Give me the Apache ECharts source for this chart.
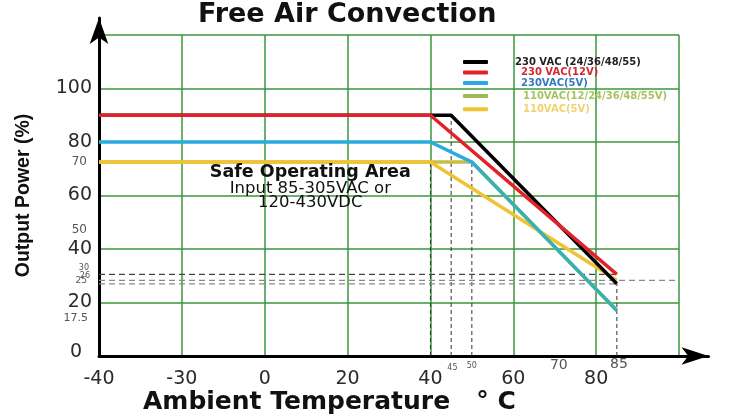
<!DOCTYPE html>
<html><head><meta charset="utf-8">
<script src="https://cdn.jsdelivr.net/npm/echarts@6/dist/echarts.min.js"></script>
<style>html,body{margin:0;padding:0;background:#fff}#c{width:729px;height:419px}</style>
</head><body><div id="c"></div>
<script>
// ---- data ----
const seriesNames = ['230 VAC (24/36/48/55)', '230 VAC(12V)', '230VAC(5V)', '110VAC(12/24/36/48/55V)', '110VAC(5V)'];
const black230 = [[-40, 90], [45, 90], [85, 27]];
const red230_12 = [[-40, 90], [40, 90], [85, 30.5]];
const blue230_5 = [[-40, 80], [40, 80], [50, 72.5], [85, 17]];
const olive110 = [[-40, 72.5], [50, 72.5], [85, 17]];
const yellow110_5 = [[-40, 72.5], [40, 72.5], [85, 28.3]];
const xTickValues = [-40, -20, 0, 20, 40, 60, 80];
const xTickLabels = ['-40', '-30', '0', '20', '40', '60', '80'];
const yTickValues = [20, 40, 60, 80, 100];
const yTickLabels = ['20', '40', '60', '80', '100'];
const yMinorValues = [72.4, 47, 32.8, 30, 28.3, 14.1, 1.6];
const yMinorLabels = ['70', '50', '30', '26', '25', '17.5', '0'];
const xMinorValues = [45.3, 50, 71, 85.5];
const xMinorLabels = ['45', '50', '70', '85'];
const vGuides = [[40, 72.5], [45, 90], [50, 72.5], [85, 27]];      // [x, top y]
const hGuides = [[30.5, 85], [28.3, 100], [27, 85]];             // [y, end x]
const noteX = 11;
const noteY = [68.5, 62.5, 57.3];
const noteText = ['Safe Operating Area', 'Input 85-305VAC or', '120-430VDC'];

// ---- styles ----
const lineColors = ['#000000', '#e2222a', '#29abe2', '#9bbb59', '#efc334'];
const legendTextColors = ['#222222', '#d22a30', '#3478bd', '#a6c462', '#f0d26e'];
const yMinorFont = [12, 12, 8, 8, 9, 11, 19];
const yMinorDist = [12, 12, 10, 9, 12, 11, 17];
const xMinorFont = [8, 8, 14, 14];
const xMinorDist = [8, 6, 2.5, 1.5];
const noteFont = [{fontSize: 17.5, fontWeight: 'bold'}, {fontSize: 16.5}, {fontSize: 16.5}];

const chart = echarts.init(document.getElementById('c'), null, {renderer: 'canvas'});

const guideSeries = [];
vGuides.forEach(g => guideSeries.push({
  type: 'line', silent: true, symbol: 'none', z: 1,
  data: [[g[0], 0], [g[0], g[1]]],
  lineStyle: {color: '#333', width: 1, type: [4, 3]}
}));
hGuides.forEach((g, i) => guideSeries.push({
  type: 'line', silent: true, symbol: 'none', z: 1,
  data: [[-40, g[0]], [g[1], g[0]]],
  lineStyle: {color: i === 0 ? '#444' : '#8a8a8a', width: 1.2, type: [6, 4]}
}));

const blueGrad = new echarts.graphic.LinearGradient(0, 0, 1, 0, [
  {offset: 0, color: '#29abe2'}, {offset: 0.72, color: '#29abe2'},
  {offset: 0.74, color: '#38b1b6'}, {offset: 1, color: '#38b1b6'}
]);

function dataLine(name, data, color, z, stroke) {
  return {
    name: name, type: 'line', data: data, symbol: 'none', z: z,
    itemStyle: {color: color},
    lineStyle: {color: stroke || color, width: 3.5}
  };
}

function textLayer(items) {
  return {type: 'scatter', silent: true, symbolSize: 0, clip: false, z: 8,
          itemStyle: {opacity: 1}, data: items};
}

const option = {
  animation: false,
  backgroundColor: '#fff',
  title: [
    {text: 'Free Air Convection', left: 198, top: 1, padding: 0,
     textStyle: {fontFamily: 'DejaVu Sans', fontWeight: 'bold', fontSize: 27, color: '#111'}},
    {text: 'Ambient Temperature   ° C', left: 143, top: 390, padding: 0,
     textStyle: {fontFamily: 'DejaVu Sans', fontWeight: 'bold', fontSize: 25, color: '#111'}}
  ],
  legend: [
    {data: seriesNames.slice(0, 3).map((n, i) => ({name: n, textStyle: {color: legendTextColors[i], padding: [0, 0, 0, i === 0 ? 22 : 28]}})),
     orient: 'vertical', left: 463, top: 57, padding: 0, itemGap: 0.5, itemWidth: 25, itemHeight: 4,
     icon: 'roundRect', selectedMode: false,
     textStyle: {fontFamily: 'DejaVu Sans', fontWeight: 'bold', fontSize: 10, lineHeight: 10}},
    {data: seriesNames.slice(3).map((n, i) => ({name: n, textStyle: {color: legendTextColors[i + 3], padding: [0, 0, 0, 30]}})),
     orient: 'vertical', left: 463, top: 91, padding: 0, itemGap: 3.3, itemWidth: 25, itemHeight: 4,
     icon: 'roundRect', selectedMode: false,
     textStyle: {fontFamily: 'DejaVu Sans', fontWeight: 'bold', fontSize: 10, lineHeight: 10}}
  ],
  grid: [
    {left: 99, right: 50, top: 35, bottom: 63},
    {left: 99, right: 20.5, top: 18, bottom: 63}
  ],
  xAxis: [
    {gridIndex: 0, type: 'value', min: -40, max: 100, interval: 20,
     axisLine: {show: false}, axisTick: {show: false},
     splitLine: {show: true, lineStyle: {color: '#3a963a', width: 1.5}},
     axisLabel: {margin: 14, fontFamily: 'DejaVu Sans', fontSize: 19, color: '#2a2a2a',
       formatter: v => { const i = xTickValues.indexOf(v); return i < 0 ? '' : xTickLabels[i]; }}},
    {gridIndex: 1, type: 'value', min: 0, max: 1,
     axisLine: {show: true, onZero: false, symbol: ['none', 'arrow'], symbolSize: [13, 27], lineStyle: {color: '#000', width: 3}},
     axisTick: {show: false}, axisLabel: {show: false}, splitLine: {show: false}}
  ],
  yAxis: [
    {gridIndex: 0, type: 'value', min: 0, max: 120, interval: 20,
     axisLine: {show: false}, axisTick: {show: false},
     splitLine: {show: true, lineStyle: {color: '#3a963a', width: 1.5}},
     axisLabel: {margin: 7, fontFamily: 'DejaVu Sans', fontSize: 19, color: '#2a2a2a',
       formatter: v => { const i = yTickValues.indexOf(v); return i < 0 ? '' : yTickLabels[i]; }},
     name: 'Output Power (%)', nameLocation: 'middle', nameRotate: 90, nameGap: 65,
     nameTextStyle: {fontFamily: 'Liberation Sans', fontWeight: 'bold', fontSize: 19.5, color: '#111'}},
    {gridIndex: 1, type: 'value', min: 0, max: 1,
     axisLine: {show: true, onZero: false, symbol: ['none', 'arrow'], symbolSize: [14, 26], lineStyle: {color: '#000', width: 3}},
     axisTick: {show: false}, axisLabel: {show: false}, splitLine: {show: false}}
  ],
  series: guideSeries.concat([
    dataLine(seriesNames[3], olive110, lineColors[3], 3, '#c9bd45'),
    dataLine(seriesNames[4], yellow110_5, lineColors[4], 4),
    dataLine(seriesNames[2], blue230_5, lineColors[2], 5, blueGrad),
    dataLine(seriesNames[0], black230, lineColors[0], 6),
    dataLine(seriesNames[1], red230_12, lineColors[1], 7),
    textLayer(yMinorValues.map((v, i) => ({value: [-40, v],
       label: {show: true, position: 'left', distance: yMinorDist[i], formatter: yMinorLabels[i],
         fontFamily: 'DejaVu Sans', fontSize: yMinorFont[i], color: i === 6 ? '#2a2a2a' : '#555',
         textBorderWidth: 0}}))),
    textLayer(xMinorValues.map((v, i) => ({value: [v, 0],
       label: {show: true, position: 'bottom', distance: xMinorDist[i], formatter: xMinorLabels[i],
         fontFamily: 'DejaVu Sans', fontSize: xMinorFont[i], color: '#555', textBorderWidth: 0}}))),
    textLayer(noteY.map((v, i) => ({value: [noteX, v],
       label: Object.assign({show: true, position: 'inside', formatter: noteText[i],
         fontFamily: 'DejaVu Sans', color: '#111', textBorderWidth: 0}, noteFont[i])})))
  ])
};
chart.setOption(option);
</script>
</body></html>
